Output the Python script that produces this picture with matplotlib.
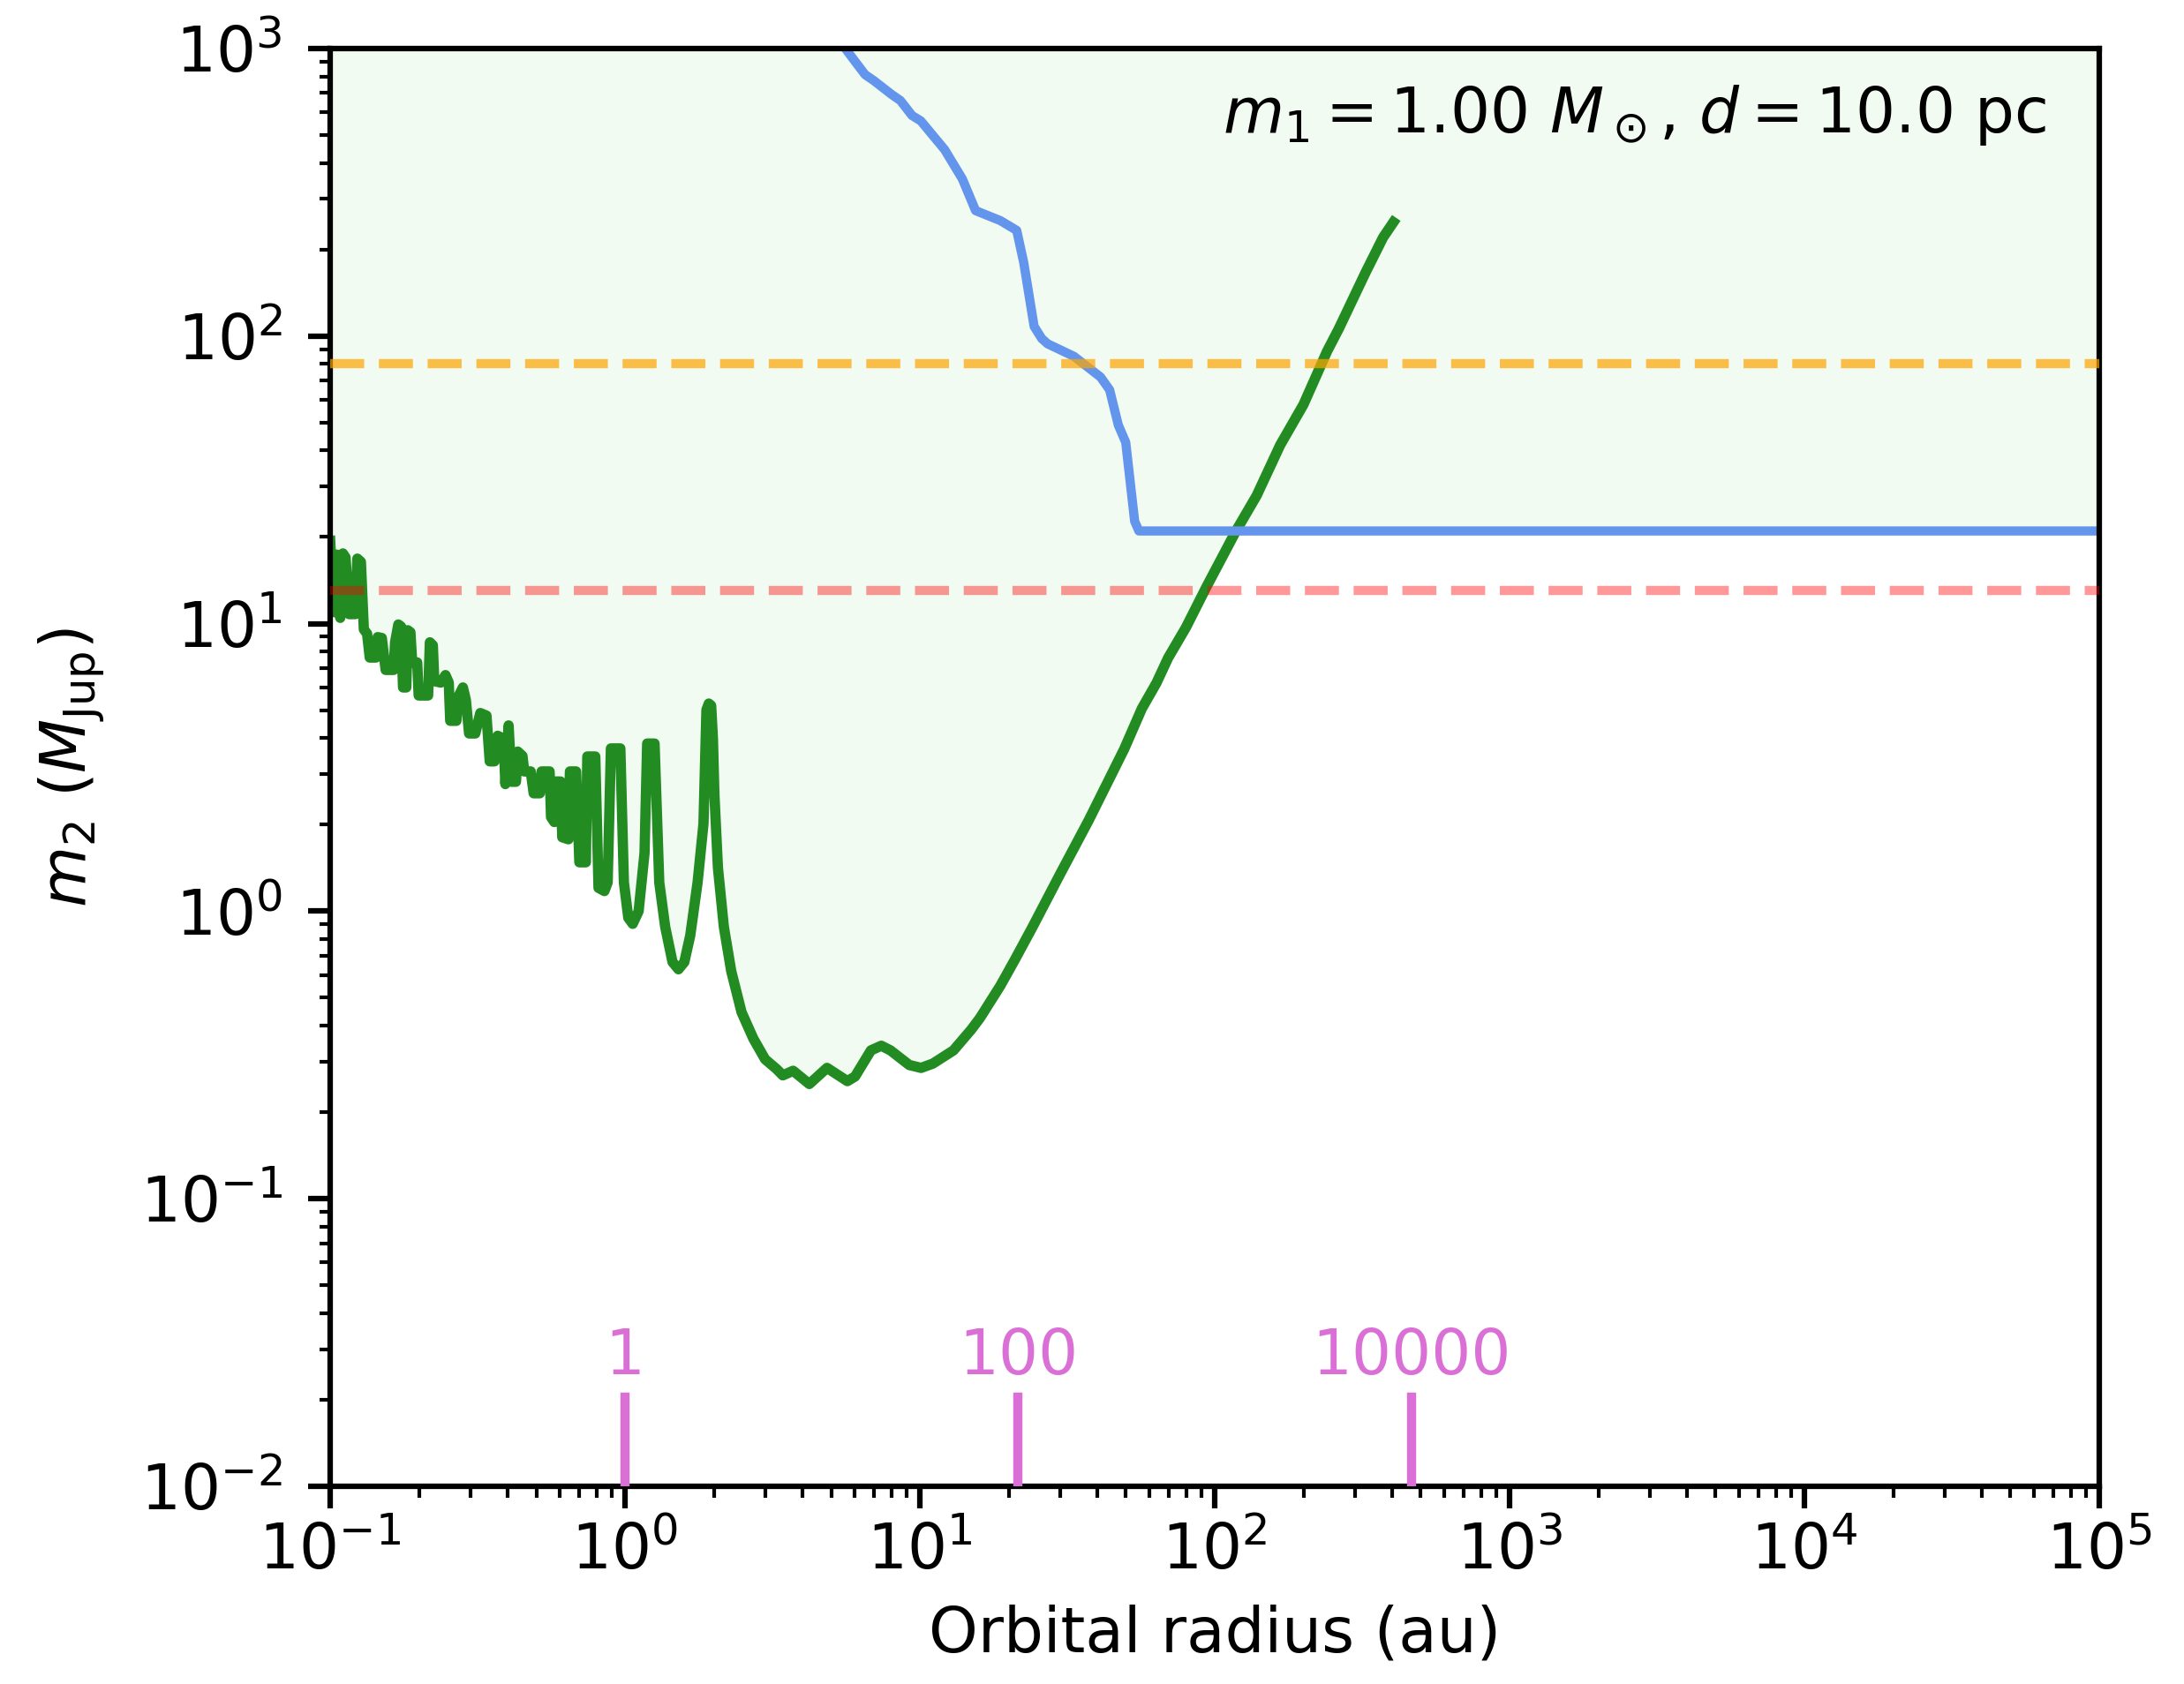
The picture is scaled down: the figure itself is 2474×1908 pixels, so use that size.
import numpy as np
import matplotlib.pyplot as plt

# detection limit from the green curve (log10 au, log10 M_Jup)
log_a_limit = [
    -1.000, -0.988, -0.978, -0.966, -0.957, -0.948, -0.936, -0.915, -0.908, -0.896,
    -0.886, -0.875, -0.866, -0.845, -0.839, -0.825, -0.812, -0.785, -0.780, -0.769,
    -0.760, -0.753, -0.742, -0.737, -0.728, -0.722, -0.705, -0.700, -0.668, -0.662,
    -0.652, -0.647, -0.625, -0.609, -0.598, -0.593, -0.572, -0.566, -0.550, -0.540,
    -0.529, -0.508, -0.491, -0.470, -0.459, -0.443, -0.432, -0.412, -0.406, -0.395,
    -0.385, -0.370, -0.364, -0.348, -0.342, -0.320, -0.310, -0.289, -0.283, -0.256,
    -0.251, -0.240, -0.235, -0.219, -0.213, -0.192, -0.187, -0.166, -0.155, -0.133,
    -0.128, -0.101, -0.090, -0.070, -0.059, -0.048, -0.016, -0.004, 0.011, 0.026,
    0.046, 0.066, 0.075, 0.100, 0.116, 0.136, 0.161, 0.181, 0.201, 0.221,
    0.246, 0.266, 0.276, 0.284, 0.292, 0.298, 0.303, 0.315, 0.335, 0.360,
    0.395, 0.435, 0.475, 0.515, 0.535, 0.570, 0.625, 0.685, 0.754, 0.780,
    0.834, 0.869, 0.900, 0.964, 1.004, 1.044, 1.114, 1.174, 1.204, 1.273,
    1.323, 1.383, 1.473, 1.573, 1.693, 1.753, 1.802, 1.842, 1.902, 1.972,
    2.022, 2.072, 2.142, 2.222, 2.301, 2.381, 2.421, 2.511, 2.571, 2.606,
]
log_m_limit = [
    1.288, 1.040, 1.240, 1.020, 1.244, 1.230, 1.033, 1.033, 1.226, 1.215,
    0.980, 0.965, 0.882, 0.882, 0.953, 0.950, 0.839, 0.839, 0.935, 0.997,
    0.990, 0.778, 0.778, 0.977, 0.970, 0.865, 0.865, 0.750, 0.750, 0.935,
    0.925, 0.800, 0.795, 0.821, 0.795, 0.662, 0.662, 0.745, 0.778, 0.735,
    0.618, 0.618, 0.689, 0.680, 0.521, 0.521, 0.610, 0.600, 0.442, 0.646,
    0.450, 0.450, 0.555, 0.540, 0.486, 0.486, 0.410, 0.410, 0.486, 0.486,
    0.327, 0.310, 0.451, 0.451, 0.257, 0.250, 0.486, 0.486, 0.170, 0.170,
    0.538, 0.538, 0.081, 0.070, 0.100, 0.566, 0.566, 0.100, -0.023, -0.044,
    0.000, 0.202, 0.583, 0.583, 0.100, -0.054, -0.177, -0.202, -0.177, -0.085,
    0.100, 0.304, 0.700, 0.722, 0.715, 0.600, 0.406, 0.151, -0.054, -0.208,
    -0.351, -0.443, -0.515, -0.550, -0.571, -0.555, -0.601, -0.545, -0.591, -0.575,
    -0.484, -0.468, -0.484, -0.535, -0.545, -0.530, -0.484, -0.412, -0.371, -0.259,
    -0.167, -0.053, 0.124, 0.317, 0.564, 0.705, 0.793, 0.881, 0.986, 1.128,
    1.225, 1.322, 1.445, 1.621, 1.762, 1.947, 2.026, 2.220, 2.343, 2.396,
]

# blue curve (au, M_Jup)
a_blue = [5.31, 6.08, 6.52, 6.98, 8.02, 8.59, 9.40, 10.07, 12.13, 13.93, 15.45,
          18.75, 21.3, 22.5, 24.4, 25.9, 27.1, 33.3, 41.0, 44.0, 47.1, 49.9,
          53.5, 55.3, 1.0e5]
m_blue = [1072, 891, 811, 773, 692, 659, 585, 560, 445, 352, 273,
          252, 233, 180, 108, 98, 94, 85, 72, 65, 49, 42.7,
          22.7, 21.0, 21.0]

deuterium_limit = 13.0
hydrogen_limit = 80.0

m1 = 1.00
dist_pc = 10.0
period_marks = [1, 100, 10000]  # yr

a_limit = 10 ** np.array(log_a_limit)
m_limit = 10 ** np.array(log_m_limit)
a_period = np.array(period_marks, dtype=float) ** (2 / 3) * m1 ** (1 / 3)

FS = 17

fig = plt.figure(figsize=(2474 / 300, 1908 / 300), dpi=300)
ax = fig.add_axes([0.1512, 0.1174, 0.81, 0.8538])

fill_col = "#f1fbf1"
ax.fill_between(a_limit, m_limit, 1e3, color=fill_col, lw=0, zorder=0)
ax.fill_between(a_blue, m_blue, 2e3, color=fill_col, lw=0, zorder=0)

ax.plot(a_limit, m_limit, color="forestgreen", lw=2.8, zorder=2)
ax.plot(a_blue, m_blue, color="cornflowerblue", lw=2.5, zorder=2)
ax.axhline(deuterium_limit, color="red", alpha=0.4, ls="--", lw=2.5, zorder=3)
ax.axhline(hydrogen_limit, color="orange", alpha=0.7, ls="--", lw=2.5, zorder=3)

trans = ax.get_xaxis_transform()
for p, a in zip(period_marks, a_period):
    ax.axvline(a, ymin=0, ymax=0.062, color="orchid", lw=2.5, zorder=4)
    ax.text(a, 0.078, f"{p}", transform=trans, color="orchid", fontsize=FS,
            ha="center", va="baseline")

ax.text(0.97, 0.9417, rf"$m_1 = {m1:.2f}\ M_\odot$, $d = {dist_pc:.1f}$ pc",
        transform=ax.transAxes, ha="right", va="baseline", fontsize=FS)

ax.set_xscale("log")
ax.set_yscale("log")
ax.set_xlim(0.1, 1e5)
ax.set_ylim(1e-2, 1e3)
ax.set_xlabel("Orbital radius (au)", fontsize=FS, labelpad=6)
ax.set_ylabel(r"$m_2$ ($M_{\rm Jup}$)", fontsize=FS, labelpad=9)
ax.tick_params(which="major", labelsize=FS, length=6, width=1.5)
ax.tick_params(which="minor", length=3, width=1.0)
ax.tick_params(axis="y", which="major", pad=7)
for s in ax.spines.values():
    s.set_linewidth(1.5)

fig.savefig("out.png", dpi=300)
